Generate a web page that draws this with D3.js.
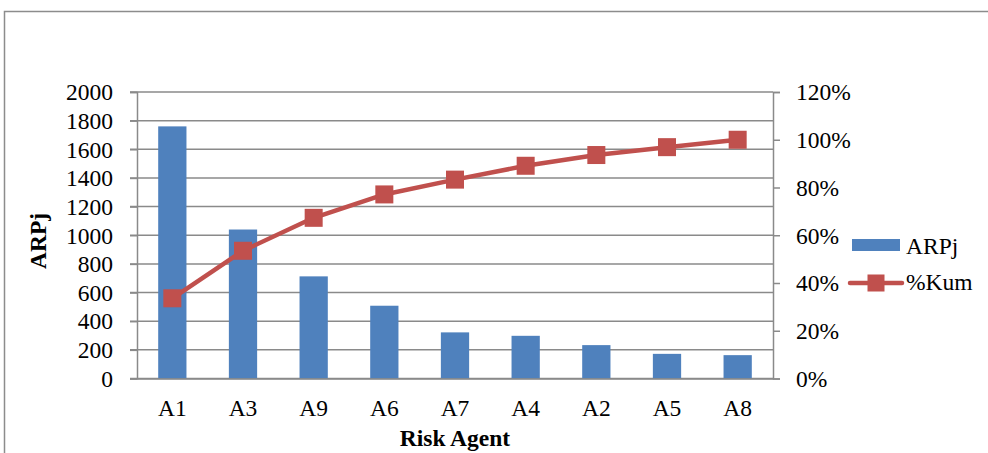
<!DOCTYPE html>
<html>
<head>
<meta charset="utf-8">
<script src="https://cdn.jsdelivr.net/npm/d3@7"></script>
<style>
  html, body { margin: 0; padding: 0; background: #fff; }
  svg { display: block; }
  text { font-family: "Liberation Serif", "Times New Roman", serif; fill: #000; }
</style>
</head>
<body>
<svg id="chart" width="988" height="453"></svg>
<script>
const categories = ["A1", "A3", "A9", "A6", "A7", "A4", "A2", "A5", "A8"];
const arpjValues = [1760, 1040, 713, 508, 322, 298, 233, 172, 163];
const kumValues = [33.6, 53.5, 67.3, 77.1, 83.3, 89.1, 93.6, 96.9, 100];
const leftTicks = [0, 200, 400, 600, 800, 1000, 1200, 1400, 1600, 1800, 2000];
const rightTicks = [0, 20, 40, 60, 80, 100, 120];
const seriesNames = ["ARPj", "%Kum"];
const xTitle = "Risk Agent";
const yTitle = "ARPj";

const svg = d3.select("#chart");
const m = { left: 137, right: 773, top: 92, bottom: 378.5 };
const gridColor = "#8a8a8a";
const barColor = "#4F81BD";
const lineColor = "#C0504D";
const fs = 23.5;
const ff = "'Liberation Serif', 'Times New Roman', serif";

// outer frame
svg.append("rect").attr("x", 4.5).attr("y", 11.5).attr("width", 1000).attr("height", 500)
  .attr("fill", "none").attr("stroke", "#8c8c8c").attr("stroke-width", 1.5);

const x = d3.scaleBand().domain(categories).range([m.left, m.right]).paddingInner(0.6).paddingOuter(0.3);
const y = d3.scaleLinear().domain([0, 2000]).range([m.bottom, m.top]);
const y2 = d3.scaleLinear().domain([0, 120]).range([m.bottom, m.top]);

// gridlines
svg.append("g").selectAll("line").data(leftTicks).join("line")
  .attr("x1", m.left - 7).attr("x2", m.right)
  .attr("y1", d => y(d)).attr("y2", d => y(d))
  .attr("stroke", gridColor).attr("stroke-width", 1.5);

// left axis
const leftAxis = svg.append("g").attr("transform", `translate(${m.left},0)`)
  .call(d3.axisLeft(y).tickValues(leftTicks).tickSize(7).tickPadding(17).tickFormat(d3.format("d")));
leftAxis.attr("font-family", ff).attr("font-size", fs);
leftAxis.select(".domain").attr("stroke", gridColor).attr("stroke-width", 1.5);
leftAxis.selectAll(".tick line").attr("stroke", gridColor).attr("stroke-width", 1.5);
leftAxis.selectAll("text").attr("fill", "#000").attr("dy", "0.33em");

// right axis
const rightAxis = svg.append("g").attr("transform", `translate(${m.right},0)`)
  .call(d3.axisRight(y2).tickValues(rightTicks).tickSize(7).tickPadding(16).tickFormat(d => d + "%"));
rightAxis.attr("font-family", ff).attr("font-size", fs);
rightAxis.select(".domain").attr("stroke", gridColor).attr("stroke-width", 1.5);
rightAxis.selectAll(".tick line").attr("stroke", gridColor).attr("stroke-width", 1.5);
rightAxis.selectAll("text").attr("fill", "#000").attr("dy", "0.33em");

// bars
svg.append("g").selectAll("rect").data(categories).join("rect")
  .attr("x", d => x(d)).attr("width", x.bandwidth())
  .attr("y", (d, i) => y(arpjValues[i]))
  .attr("height", (d, i) => y(0) - y(arpjValues[i]))
  .attr("fill", barColor);

// bottom axis
const bottomAxis = svg.append("g").attr("transform", `translate(0,${m.bottom})`)
  .call(d3.axisBottom(x).tickSize(0).tickPadding(21));
bottomAxis.attr("font-family", ff).attr("font-size", fs);
bottomAxis.select(".domain").attr("stroke", gridColor).attr("stroke-width", 1.5);
bottomAxis.selectAll("text").attr("fill", "#000");

// line
const cx = d => x(d) + x.bandwidth() / 2;
const line = d3.line().x((d, i) => cx(categories[i])).y(d => y2(d));
svg.append("path").datum(kumValues).attr("d", line)
  .attr("fill", "none").attr("stroke", lineColor).attr("stroke-width", 4.5).attr("stroke-linejoin", "round");
const ms = 18;
svg.append("g").selectAll("rect").data(kumValues).join("rect")
  .attr("x", (d, i) => cx(categories[i]) - ms / 2).attr("y", d => y2(d) - ms / 2)
  .attr("width", ms).attr("height", ms).attr("fill", lineColor);

// axis titles
svg.append("text").attr("x", (m.left + m.right) / 2).attr("y", 446)
  .attr("text-anchor", "middle").attr("font-size", fs).attr("font-weight", "bold").text(xTitle);
svg.append("text").attr("transform", `translate(46,${241}) rotate(-90)`)
  .attr("text-anchor", "middle").attr("font-size", fs).attr("font-weight", "bold").text(yTitle);

// legend
const lg = svg.append("g");
lg.append("rect").attr("x", 852).attr("y", 239).attr("width", 48).attr("height", 12).attr("fill", barColor);
lg.append("text").attr("x", 906).attr("y", 254).attr("font-size", fs).text(seriesNames[0]);
lg.append("line").attr("x1", 850).attr("x2", 902).attr("y1", 283).attr("y2", 283)
  .attr("stroke", lineColor).attr("stroke-width", 4.5).attr("stroke-linecap", "round");
lg.append("rect").attr("x", 876 - 8.5).attr("y", 283 - 8.5).attr("width", 17).attr("height", 17).attr("fill", lineColor);
lg.append("text").attr("x", 906).attr("y", 290).attr("font-size", fs).text(seriesNames[1]);
</script>
</body>
</html>
